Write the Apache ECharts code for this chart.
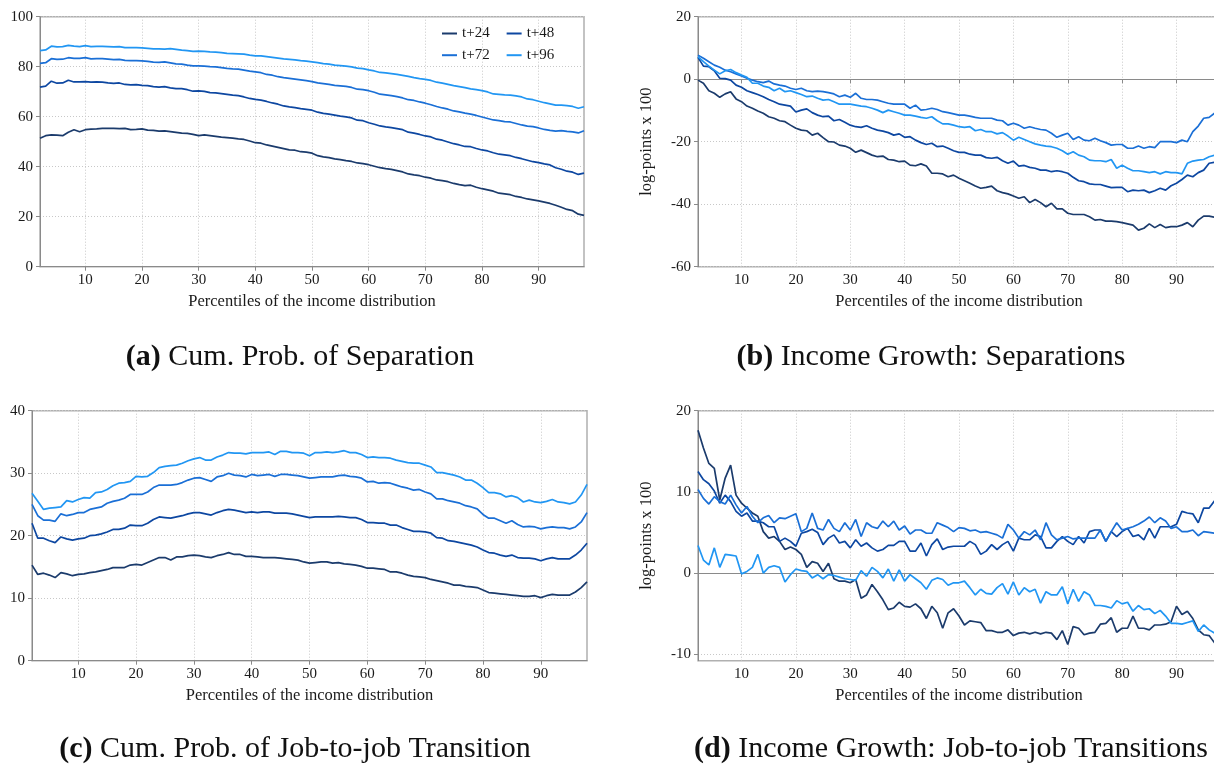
<!DOCTYPE html>
<html>
<head>
<meta charset="utf-8">
<script src="https://cdn.jsdelivr.net/npm/echarts@6/dist/echarts.min.js"></script>
<style>html,body{margin:0;padding:0;background:#fff}#c{width:1214px;height:765px}</style>
</head>
<body>
<div id="c"></div>
<script>
const percentiles = [2,3,4,5,6,7,8,9,10,11,12,13,14,15,16,17,18,19,20,21,22,23,24,25,26,27,28,29,30,31,32,33,34,35,36,37,38,39,40,41,42,43,44,45,46,47,48,49,50,51,52,53,54,55,56,57,58,59,60,61,62,63,64,65,66,67,68,69,70,71,72,73,74,75,76,77,78,79,80,81,82,83,84,85,86,87,88,89,90,91,92,93,94,95,96,97,98];
const seriesNames = ['t+24','t+48','t+72','t+96'];
const xTicks = [10,20,30,40,50,60,70,80,90];
const yTicksD = [-10,0,10,20];
const xTitle = 'Percentiles of the income distribution';
const yTitle = 'log-points x 100';
const captions = [['(a)',' Cum. Prob. of Separation'],['(b)',' Income Growth: Separations'],['(c)',' Cum. Prob. of Job-to-job Transition'],['(d)',' Income Growth: Job-to-job Transitions']];

// (a) cumulative probability of separation
const sepProb24 = [51.4,52.4,52.7,52.6,52.4,53.8,54.8,54.0,54.8,55.0,55.1,55.3,55.3,55.3,55.2,55.3,54.8,54.9,55.1,54.6,54.5,54.2,54.3,54.0,53.7,53.4,53.3,52.9,52.4,52.7,52.4,52.1,51.8,51.6,51.4,51.1,50.9,50.3,49.6,49.4,48.7,48.2,47.7,47.2,46.7,46.6,46.0,45.8,45.4,44.4,43.9,43.6,43.1,42.8,42.4,42.1,41.5,41.2,40.8,40.2,39.6,39.2,38.9,38.4,37.9,37.1,36.7,36.4,35.8,35.4,34.7,34.4,34.0,33.3,32.8,32.4,32.6,31.8,31.2,30.7,30.2,29.4,29.1,28.8,28.1,27.7,27.1,26.7,26.3,25.8,25.3,24.6,23.8,22.9,22.4,21.0,20.5];
const sepProb48 = [71.8,72.2,74.2,73.4,73.5,74.6,73.9,73.9,74.0,73.8,73.9,73.8,73.5,73.3,73.5,72.9,72.7,72.8,72.5,72.4,72.0,71.8,72.0,71.5,71.2,71.2,70.8,70.2,70.3,70.1,69.6,69.5,69.2,68.9,68.6,68.4,67.9,67.3,66.9,66.6,66.1,65.5,65.0,64.3,63.9,63.6,63.2,62.9,62.6,61.8,61.3,61.0,60.6,60.2,59.9,59.5,58.6,58.4,57.6,57.0,56.3,55.9,55.6,55.2,54.8,53.8,53.4,52.9,52.3,51.9,51.0,50.6,49.9,49.2,48.7,48.1,48.0,47.3,46.7,46.3,45.6,45.0,44.7,44.4,43.7,43.2,42.6,42.0,41.6,41.1,40.7,39.6,39.0,38.2,37.8,36.9,37.4];
const sepProb72 = [81.3,81.6,83.2,82.9,83.0,83.6,83.3,83.3,83.6,83.1,83.2,83.2,83.0,82.8,82.9,82.5,82.4,82.4,82.3,82.1,81.8,81.7,81.9,81.5,81.1,81.0,80.6,80.3,80.3,80.2,80.0,79.9,79.6,79.3,79.1,79.0,78.6,78.2,77.9,77.6,76.9,76.6,76.0,75.6,75.3,75.0,74.7,74.4,74.0,73.5,73.2,72.9,72.5,72.3,72.1,71.7,71.0,70.8,70.4,69.8,69.0,68.7,68.4,68.0,67.5,66.8,66.5,65.9,65.4,64.8,64.1,63.5,63.0,62.3,61.9,61.4,61.0,60.5,59.9,59.3,58.7,58.4,58.0,57.9,57.3,56.7,56.2,56.0,55.5,54.9,54.5,54.2,54.4,54.1,53.9,53.5,54.4];
const sepProb96 = [86.4,86.7,88.2,87.9,88.0,88.5,88.2,88.0,88.4,88.0,88.1,88.1,88.0,87.9,88.0,87.6,87.6,87.6,87.5,87.3,87.1,87.1,87.0,87.2,86.9,86.6,86.4,86.1,86.2,86.1,85.9,85.8,85.6,85.3,85.2,85.1,85.0,84.6,84.3,84.3,84.0,83.7,83.4,83.1,82.9,82.7,82.4,82.2,81.9,81.6,81.2,81.0,80.6,80.4,80.2,79.9,79.4,79.2,78.7,78.3,77.7,77.5,77.2,76.9,76.5,76.1,75.6,75.2,74.9,74.5,73.8,73.4,72.9,72.4,72.0,71.6,71.1,70.8,70.4,69.9,69.1,68.9,68.7,68.6,68.3,67.9,67.1,66.8,66.2,65.6,65.1,64.6,64.6,64.4,64.1,63.4,64.0];

// (b) income growth after separation
const sepGrowth24 = [-0.3,-1.3,-3.7,-4.5,-5.8,-4.7,-4.0,-6.3,-7.2,-8.6,-9.3,-10.2,-10.9,-12.0,-12.5,-13.3,-13.6,-14.7,-15.7,-16.3,-16.5,-17.9,-17.3,-18.7,-20.0,-20.1,-21.1,-21.4,-22.1,-23.4,-22.7,-23.5,-24.3,-24.8,-24.6,-25.7,-25.9,-26.4,-26.2,-27.5,-27.7,-27.1,-27.8,-30.1,-30.1,-30.3,-31.2,-30.7,-31.7,-32.5,-33.3,-34.2,-34.9,-34.6,-34.2,-35.7,-36.3,-36.7,-37.4,-38.1,-37.6,-39.5,-38.5,-39.5,-40.8,-39.7,-41.5,-41.5,-42.9,-43.3,-43.3,-43.3,-44.0,-45.1,-44.9,-45.4,-45.4,-45.6,-45.9,-46.3,-46.7,-48.3,-47.7,-46.3,-47.5,-46.5,-47.5,-47.2,-47.2,-46.7,-45.9,-47.2,-45.1,-43.8,-43.8,-44.2,-44.3];
const sepGrowth48 = [7.0,4.2,4.0,2.7,0.3,0.2,-0.3,-1.9,-2.6,-3.7,-4.3,-4.9,-5.6,-6.5,-7.2,-8.0,-8.3,-8.6,-10.5,-9.9,-9.5,-10.7,-11.5,-12.0,-11.8,-13.3,-12.9,-13.8,-14.7,-15.2,-15.4,-14.9,-15.7,-16.3,-16.6,-17.1,-17.9,-17.5,-18.6,-18.4,-19.5,-20.3,-20.9,-20.5,-21.6,-21.4,-22.1,-22.9,-23.4,-23.4,-24.0,-24.3,-24.3,-25.1,-25.3,-25.0,-26.1,-26.9,-26.2,-27.8,-27.6,-28.2,-28.5,-29.1,-29.1,-29.6,-29.3,-29.6,-30.1,-31.4,-32.5,-32.8,-33.5,-33.7,-33.7,-34.2,-34.7,-34.6,-34.6,-36.0,-35.5,-35.7,-35.5,-36.3,-35.7,-34.9,-35.5,-34.1,-33.3,-32.1,-30.7,-31.2,-29.9,-29.1,-26.9,-26.6,-26.3];
const sepGrowth72 = [7.7,6.7,5.6,4.5,3.8,2.9,2.4,1.7,1.0,0.3,-0.3,-0.8,-1.1,-0.6,-1.5,-1.9,-2.2,-2.9,-3.3,-2.9,-3.7,-4.0,-3.8,-4.0,-4.3,-4.7,-5.6,-5.1,-5.8,-4.5,-6.1,-6.5,-6.5,-6.7,-7.2,-7.7,-8.0,-8.0,-8.0,-9.3,-8.3,-9.9,-9.7,-9.3,-9.7,-10.4,-10.7,-11.1,-11.5,-11.5,-11.8,-12.2,-12.5,-12.5,-12.5,-13.1,-13.3,-14.7,-14.1,-14.7,-15.7,-15.2,-15.7,-16.1,-16.3,-17.3,-18.6,-17.9,-17.3,-19.3,-18.4,-19.5,-19.7,-18.9,-19.7,-20.3,-21.1,-20.9,-20.9,-22.1,-22.1,-21.4,-22.1,-21.6,-21.9,-20.0,-20.0,-20.0,-20.3,-19.5,-20.0,-16.8,-15.0,-12.5,-12.2,-10.9,-10.5];
const sepGrowth96 = [7.2,5.6,4.2,2.9,1.7,2.7,3.1,2.1,1.3,0.6,-1.3,-1.3,-2.2,-2.6,-3.7,-2.9,-4.0,-3.7,-4.3,-4.9,-5.6,-5.4,-6.1,-6.7,-6.5,-7.2,-8.0,-8.0,-8.0,-8.3,-8.6,-8.8,-9.3,-9.9,-10.7,-9.9,-10.4,-10.9,-11.5,-11.5,-11.8,-12.2,-12.5,-12.0,-13.3,-14.3,-14.3,-14.7,-15.2,-15.4,-15.2,-16.5,-16.1,-16.8,-16.8,-17.5,-17.1,-18.2,-19.5,-18.6,-19.3,-20.0,-20.7,-21.1,-21.4,-21.6,-22.1,-22.9,-24.0,-23.2,-24.3,-24.8,-25.9,-26.1,-26.1,-26.4,-25.7,-28.5,-27.5,-28.5,-29.3,-29.3,-29.6,-29.9,-29.6,-30.3,-29.6,-29.9,-29.9,-30.3,-26.9,-26.2,-25.9,-25.7,-24.8,-24.3,-24.0];

// (c) cumulative probability of job-to-job transition
const j2jProb24 = [15.3,13.8,14.0,13.7,13.3,14.1,13.9,13.6,13.8,13.9,14.1,14.2,14.4,14.6,14.9,14.9,14.9,15.3,15.4,15.3,15.7,16.1,16.5,16.5,16.1,16.6,16.6,16.8,16.9,16.8,16.6,16.5,16.8,17.0,17.3,17.0,17.0,16.7,16.7,16.6,16.5,16.5,16.5,16.4,16.3,16.2,16.1,15.8,15.6,15.7,15.8,15.8,15.6,15.7,15.5,15.4,15.3,15.1,14.8,14.8,14.7,14.6,14.2,14.2,14.0,13.7,13.5,13.4,13.3,13.0,12.8,12.6,12.4,12.1,12.1,11.9,11.8,11.7,11.3,10.9,10.8,10.7,10.6,10.5,10.4,10.3,10.3,10.4,10.1,10.4,10.6,10.5,10.5,10.5,11.0,11.7,12.6];
const j2jProb48 = [22.0,19.6,19.6,19.2,18.9,19.8,19.5,19.3,19.5,19.6,20.0,20.1,20.3,20.6,21.0,21.0,21.2,21.7,21.6,21.6,22.0,22.6,23.0,22.9,22.8,23.0,23.2,23.5,23.7,23.7,23.5,23.3,23.7,24.0,24.2,24.1,23.9,23.7,23.8,23.7,23.8,23.8,23.6,23.6,23.6,23.5,23.3,23.1,22.9,23.0,23.0,23.0,23.0,23.1,23.0,22.9,22.9,22.6,22.1,22.1,22.0,22.0,21.7,21.7,21.3,21.0,20.7,20.7,20.6,20.4,19.7,19.6,19.2,19.1,18.9,18.7,18.5,18.2,17.7,17.3,17.2,16.9,16.7,16.9,16.5,16.4,16.4,16.3,16.0,16.3,16.5,16.3,16.3,16.3,16.9,17.7,18.8];
const j2jProb72 = [25.0,23.2,22.5,22.5,22.3,23.5,23.2,23.4,23.7,23.7,24.2,24.4,24.6,25.2,25.5,25.7,26.0,26.6,26.6,26.6,27.0,27.7,28.1,28.1,28.1,28.2,28.5,28.9,29.2,29.3,29.0,28.7,29.4,29.6,30.0,29.7,29.6,29.4,29.8,29.6,29.7,29.8,29.5,29.8,29.8,29.7,29.6,29.4,29.2,29.3,29.4,29.4,29.4,29.6,29.7,29.5,29.4,29.2,28.6,28.7,28.4,28.5,28.4,28.1,27.8,27.6,27.3,27.4,27.0,26.7,25.9,25.9,25.6,25.4,25.2,24.8,24.6,24.3,23.4,22.8,22.8,22.4,22.0,22.4,21.8,21.4,21.5,21.4,21.1,21.3,21.4,21.3,21.3,21.1,21.4,22.2,23.7];
const j2jProb96 = [26.8,25.5,24.2,24.4,24.5,24.6,25.6,25.4,25.8,26.1,26.0,26.9,27.0,27.4,28.0,28.4,28.5,28.7,29.5,29.4,29.5,30.1,30.9,31.1,31.2,31.3,31.6,32.0,32.3,32.5,32.1,32.1,32.6,32.9,33.3,33.2,33.2,33.1,33.3,33.3,33.3,33.4,33.0,33.5,33.5,33.3,33.3,33.2,32.8,33.3,33.3,33.4,33.3,33.4,33.6,33.3,33.3,33.0,32.5,32.6,32.5,32.5,32.4,32.1,31.9,31.7,31.6,31.6,31.3,31.0,30.1,30.1,29.9,29.7,29.4,28.9,28.9,28.4,27.7,26.9,26.9,26.7,26.2,26.4,26.1,25.4,25.7,25.4,25.3,25.5,25.8,25.4,25.3,25.1,25.4,26.5,28.2];

// (d) income growth after job-to-job transition
const j2jGrowth24 = [17.6,15.4,13.5,12.9,9.0,11.7,13.3,9.6,8.6,8.0,7.4,7.0,5.1,4.3,4.5,3.9,2.9,3.2,2.9,2.3,0.7,1.4,1.2,0.2,1.2,-0.7,-1.0,-1.0,-1.2,-0.8,-3.1,-2.7,-1.4,-2.3,-3.3,-4.5,-4.3,-3.6,-4.1,-4.2,-3.8,-4.4,-5.6,-4.1,-4.9,-6.8,-4.9,-4.4,-5.3,-6.4,-5.9,-6.0,-6.1,-7.1,-7.1,-7.3,-7.3,-7.0,-7.7,-7.4,-7.3,-7.5,-7.3,-7.5,-7.3,-7.4,-8.2,-7.1,-8.8,-6.6,-6.8,-7.6,-7.4,-7.3,-6.3,-6.2,-5.5,-7.3,-6.8,-6.8,-5.3,-6.8,-6.8,-7.0,-6.4,-6.4,-6.3,-6.0,-4.1,-5.1,-4.7,-5.6,-7.0,-7.6,-7.7,-8.6,-8.6];
const j2jGrowth48 = [12.5,11.5,11.0,10.1,8.6,9.6,8.8,7.6,7.0,7.4,6.4,6.4,6.2,5.7,5.7,3.9,4.3,3.9,3.3,4.9,5.1,5.4,5.0,3.5,4.3,4.7,3.7,3.9,3.1,4.1,3.3,3.7,3.1,2.7,2.9,3.4,3.4,3.9,3.9,2.7,2.7,3.7,2.1,3.5,4.2,2.9,3.2,3.3,3.3,3.3,3.9,3.5,2.3,2.7,3.5,2.9,3.5,3.9,2.7,4.3,4.1,4.1,4.7,4.5,3.1,3.1,3.9,4.5,3.9,3.5,4.5,3.7,5.1,5.3,5.3,3.9,5.1,4.5,5.1,5.5,4.5,4.7,4.1,5.5,4.3,5.7,5.7,5.7,6.0,7.6,7.4,7.3,6.2,8.0,8.0,8.9,9.0];
const j2jGrowth72 = [10.3,9.2,8.5,9.4,8.8,8.5,9.6,8.4,7.4,8.2,7.0,6.2,6.8,7.1,6.2,6.8,6.7,7.0,7.3,5.1,5.5,7.4,5.5,5.3,6.6,5.5,5.1,6.2,5.3,6.6,4.5,6.2,5.7,5.5,6.4,5.7,6.4,5.3,5.8,4.8,5.3,5.3,4.9,4.9,6.2,5.9,5.6,5.1,5.6,5.5,5.2,5.3,5.0,5.1,4.9,4.7,4.3,6.0,5.3,4.3,5.1,4.7,5.3,4.1,6.2,4.7,4.1,4.3,4.5,4.2,4.3,4.3,4.3,4.3,5.3,3.9,5.1,6.2,5.3,5.5,5.7,6.0,6.4,6.9,6.2,6.8,6.4,5.5,5.7,5.1,5.1,5.3,4.6,5.1,5.0,4.9,5.0];
const j2jGrowth96 = [3.4,1.6,1.0,3.1,0.7,2.3,2.2,2.1,-0.1,0.2,0.7,2.3,0.0,0.7,0.9,0.7,-1.1,-0.2,0.5,0.3,0.2,-0.6,-0.2,-0.7,-0.2,-0.3,-0.5,-0.7,-0.8,-0.9,0.3,-0.4,0.7,0.2,-0.6,0.5,-1.0,0.4,-1.0,-0.2,-0.7,-1.2,-2.0,-0.9,-0.6,-0.8,-1.5,-1.2,-1.2,-1.0,-1.8,-2.7,-2.0,-2.5,-2.6,-1.8,-1.3,-2.6,-1.1,-2.7,-1.8,-2.3,-2.0,-3.7,-2.3,-2.7,-2.7,-1.7,-3.8,-2.0,-3.5,-2.3,-2.7,-4.0,-4.0,-4.1,-4.3,-3.4,-3.8,-3.6,-4.7,-4.0,-4.5,-4.4,-5.0,-4.6,-5.3,-6.2,-6.2,-6.3,-6.1,-5.9,-7.2,-6.4,-7.0,-7.4,-7.6];

const colors = ['#1b3b6c','#0d47a1','#1a6fd6','#2196f3'];
const FONT = 'Liberation Serif';

const panels = [
  {data:[sepProb24,sepProb48,sepProb72,sepProb96], grid:{left:40, top:16.7, width:544, height:250}, y:{min:0,max:100,interval:20}, yName:null},
  {data:[sepGrowth24,sepGrowth48,sepGrowth72,sepGrowth96], grid:{left:698, top:16.7, width:522, height:250}, y:{min:-60,max:20,interval:20}, yName:yTitle},
  {data:[j2jProb24,j2jProb48,j2jProb72,j2jProb96], grid:{left:32, top:410.7, width:555, height:250}, y:{min:0,max:40,interval:10}, yName:null},
  {data:[j2jGrowth24,j2jGrowth48,j2jGrowth72,j2jGrowth96], grid:{left:698, top:410.7, width:522, height:250}, y:{min:-10.8,max:20,custom:yTicksD}, yName:yTitle}
];

const axisLineStyle = {color:'#8a8a8a', width:1};
const splitStyle = {type:[1,2], color:'#c8c8c8', width:1};
const labelStyle = {color:'#1a1a1a', fontFamily:FONT, fontSize:15};

const option = {
  animation:false,
  backgroundColor:'#fff',
  grid:[], xAxis:[], yAxis:[], series:[],
  legend:[
    {data:['t+24','t+48'], left:437, top:21, itemWidth:15, itemHeight:2, icon:'rect', itemGap:17, textStyle:{fontFamily:FONT, fontSize:15, color:'#1a1a1a'}, selectedMode:false},
    {data:['t+72','t+96'], left:437, top:42.7, itemWidth:15, itemHeight:2, icon:'rect', itemGap:17, textStyle:{fontFamily:FONT, fontSize:15, color:'#1a1a1a'}, selectedMode:false}
  ],
  graphic:[]
};

panels.forEach((p,i)=>{
  option.grid.push(Object.assign({show:true, borderColor:'#b0b0b0', borderWidth:1.5, backgroundColor:'transparent', containLabel:false, outerBoundsMode:'none'}, p.grid));
  option.xAxis.push({
    type:'value', gridIndex:i, min:2, max:98,
    name:xTitle, nameLocation:'middle', nameGap:26,
    nameTextStyle:{fontFamily:FONT, fontSize:16.5, color:'#1a1a1a'},
    axisLine:{show:true, lineStyle:axisLineStyle},
    axisTick:{show:true, length:4, lineStyle:axisLineStyle, customValues:xTicks},
    axisLabel:Object.assign({margin:6, customValues:xTicks}, labelStyle),
    splitLine:{show:true, lineStyle:splitStyle}
  });
  const y = {
    type:'value', gridIndex:i, min:p.y.min, max:p.y.max,
    axisLine:{show:true, lineStyle:axisLineStyle},
    axisTick:{show:true, length:4, lineStyle:axisLineStyle},
    axisLabel:Object.assign({margin:7}, labelStyle),
    splitLine:{show:true, lineStyle:splitStyle}
  };
  if (p.y.interval) y.interval = p.y.interval;
  if (p.y.custom) { y.axisTick.customValues = p.y.custom; y.axisLabel.customValues = p.y.custom; }
  if (p.yName) { y.name = p.yName; y.nameLocation='middle'; y.nameGap=43; y.nameTextStyle={fontFamily:FONT, fontSize:16.5, color:'#1a1a1a'}; }
  option.yAxis.push(y);
  p.data.forEach((vals,k)=>{
    option.series.push({
      type:'line', name:seriesNames[k], xAxisIndex:i, yAxisIndex:i,
      data:percentiles.map((x,j)=>[x, vals[j]]),
      showSymbol:false, symbol:'none', color:colors[k],
      lineStyle:{width:1.7, color:colors[k]}, clip:true, z:3+k
    });
  });
});

const capPos = [[300,357],[931,357],[295,749],[951,749]];
captions.forEach((c,i)=>{
  option.graphic.push({
    type:'text', x:capPos[i][0], y:capPos[i][1],
    style:{text:'{b|'+c[0]+'}{n|'+c[1]+'}', align:'center', verticalAlign:'middle',
      rich:{b:{fontFamily:FONT, fontWeight:'bold', fontSize:30, fill:'#111'}, n:{fontFamily:FONT, fontSize:30, fill:'#111'}}}
  });
});

const chart = echarts.init(document.getElementById('c'), null, {renderer:'canvas'});
chart.setOption(option);
</script>
</body>
</html>
